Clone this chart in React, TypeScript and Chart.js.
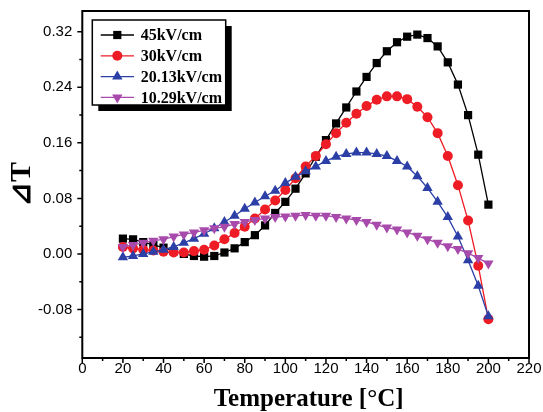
import React, { useEffect, useRef } from 'react';
import { Chart, registerables } from 'chart.js';
import { drawPoint } from 'chart.js/helpers';

Chart.register(...registerables);

const temperatures = [20, 25, 30, 35, 40, 45, 50, 55, 60, 65, 70, 75, 80, 85, 90, 95, 100, 105, 110, 115, 120, 125, 130, 135, 140, 145, 150, 155, 160, 165, 170, 175, 180, 185, 190, 195, 200];

const dT45 = [0.022, 0.021, 0.017, 0.013, 0.009, 0.004, 0.0, -0.003, -0.004, -0.003, 0.002, 0.008, 0.017, 0.027, 0.041, 0.059, 0.075, 0.094, 0.116, 0.14, 0.164, 0.188, 0.211, 0.234, 0.255, 0.275, 0.292, 0.305, 0.313, 0.316, 0.311, 0.299, 0.276, 0.244, 0.2, 0.143, 0.071];
const dT30 = [0.01, 0.008, 0.006, 0.005, 0.003, 0.002, 0.002, 0.004, 0.006, 0.012, 0.021, 0.03, 0.039, 0.051, 0.064, 0.077, 0.092, 0.109, 0.126, 0.141, 0.158, 0.174, 0.189, 0.202, 0.213, 0.222, 0.227, 0.227, 0.223, 0.212, 0.197, 0.174, 0.141, 0.099, 0.048, -0.017, -0.094];
const dT20 = [-0.005, -0.003, 0.0, 0.003, 0.006, 0.01, 0.016, 0.022, 0.029, 0.037, 0.046, 0.055, 0.065, 0.074, 0.083, 0.091, 0.102, 0.111, 0.119, 0.126, 0.134, 0.14, 0.144, 0.146, 0.146, 0.144, 0.141, 0.134, 0.126, 0.112, 0.095, 0.075, 0.053, 0.025, -0.009, -0.046, -0.09];
const dT10 = [0.01, 0.013, 0.016, 0.019, 0.021, 0.025, 0.028, 0.031, 0.034, 0.037, 0.039, 0.043, 0.046, 0.049, 0.051, 0.053, 0.054, 0.055, 0.056, 0.055, 0.055, 0.053, 0.051, 0.049, 0.046, 0.042, 0.038, 0.035, 0.031, 0.026, 0.021, 0.016, 0.011, 0.007, 0.001, -0.006, -0.014];

const seriesLabels = ['45kV/cm', '30kV/cm', '20.13kV/cm', '10.29kV/cm'];
const xTickValues = [0, 20, 40, 60, 80, 100, 120, 140, 160, 180, 200, 220];
const xMinorValues = [10, 30, 50, 70, 90, 110, 130, 150, 170, 190, 210];
const yTickValues = [-0.08, 0, 0.08, 0.16, 0.24, 0.32];
const yMinorValues = [-0.12, -0.04, 0.04, 0.12, 0.2, 0.28];
const xTitle = 'Temperature [°C]';
const yTitle = '⊿T';

const X_MIN = 0;
const X_MAX = 220;
const Y_MIN = -0.15;
const Y_MAX = 0.35;

const COLORS = ['#000000', '#ee1c24', '#2b3fa6', '#a84aac'];
const STYLES = [
  { pointStyle: 'rect', radius: 5.8, rotation: 0 },
  { pointStyle: 'circle', radius: 5, rotation: 0 },
  { pointStyle: 'triangle', radius: 6, rotation: 0 },
  { pointStyle: 'triangle', radius: 6, rotation: 180 },
];

const overlayPlugin = {
  id: 'overlay',
  afterDraw(chart: any) {
    const { ctx, chartArea: a, scales } = chart;
    const xs = scales.x;
    const ys = scales.y;
    ctx.save();
    // frame
    ctx.strokeStyle = '#000';
    ctx.lineWidth = 2;
    ctx.strokeRect(a.left, a.top, a.right - a.left, a.bottom - a.top);
    // ticks
    ctx.lineWidth = 1.5;
    ctx.beginPath();
    xTickValues.forEach((v) => {
      const p = xs.getPixelForValue(v);
      ctx.moveTo(p, a.bottom);
      ctx.lineTo(p, a.bottom + 5);
    });
    xMinorValues.forEach((v) => {
      const p = xs.getPixelForValue(v);
      ctx.moveTo(p, a.bottom);
      ctx.lineTo(p, a.bottom + 3);
    });
    yTickValues.forEach((v) => {
      const p = ys.getPixelForValue(v);
      ctx.moveTo(a.left, p);
      ctx.lineTo(a.left - 5, p);
    });
    yMinorValues.forEach((v) => {
      const p = ys.getPixelForValue(v);
      ctx.moveTo(a.left, p);
      ctx.lineTo(a.left - 3, p);
    });
    ctx.stroke();

    // axis titles
    ctx.fillStyle = '#000';
    ctx.font = 'bold 25px "Liberation Serif", "Times New Roman", serif';
    ctx.textAlign = 'center';
    ctx.textBaseline = 'alphabetic';
    ctx.fillText(xTitle, (a.left + a.right) / 2 + 3, 406);

    ctx.save();
    ctx.translate(22, (a.top + a.bottom) / 2);
    ctx.rotate(-Math.PI / 2);
    ctx.font = 'bold 30px "Liberation Serif", "DejaVu Serif", serif';
    ctx.textAlign = 'center';
    ctx.textBaseline = 'middle';
    ctx.fillText(yTitle, 0, 0);
    ctx.restore();

    // legend
    const bx = 92.3, by = 20, bw = 133.4, bh = 85;
    ctx.fillStyle = '#000';
    ctx.fillRect(bx + 6, by + 6, bw, bh);
    ctx.fillStyle = '#fff';
    ctx.fillRect(bx, by, bw, bh);
    ctx.strokeStyle = '#000';
    ctx.lineWidth = 1.5;
    ctx.strokeRect(bx, by, bw, bh);

    seriesLabels.forEach((label, i) => {
      const y = 35 + i * 20.8;
      ctx.strokeStyle = COLORS[i];
      ctx.lineWidth = 1.3;
      ctx.beginPath();
      ctx.moveTo(100.7, y);
      ctx.lineTo(134, y);
      ctx.stroke();
      ctx.fillStyle = COLORS[i];
      drawPoint(ctx, { ...STYLES[i], borderWidth: 0 } as any, 117.3, y);
      ctx.fillStyle = '#000';
      ctx.font = 'bold 16px "Liberation Serif", "Times New Roman", serif';
      ctx.textAlign = 'left';
      ctx.textBaseline = 'middle';
      ctx.fillText(label, 140.7, y + 1);
    });
    ctx.restore();
  },
};

const zeroPadding = (scale: any) => {
  scale.paddingTop = 0;
  scale.paddingBottom = 0;
  scale.paddingLeft = 0;
  scale.paddingRight = 0;
};

export default function App() {
  const canvasRef = useRef<HTMLCanvasElement | null>(null);

  useEffect(() => {
    document.body.style.margin = '0';
    const canvas = canvasRef.current;
    if (!canvas) return;
    const seriesList = [dT45, dT30, dT20, dT10];
    const chart = new Chart(canvas, {
      type: 'line',
      data: {
        datasets: seriesList.map((s, i) => ({
          label: seriesLabels[i],
          data: temperatures.map((t, j) => ({ x: t, y: s[j] })),
          borderColor: COLORS[i],
          backgroundColor: COLORS[i],
          borderWidth: 1.3,
          pointStyle: STYLES[i].pointStyle as any,
          pointRadius: STYLES[i].radius,
          pointRotation: STYLES[i].rotation,
          pointBorderWidth: 0,
          pointBackgroundColor: COLORS[i],
          tension: 0,
          order: 4 - i,
          clip: false as any,
        })),
      },
      options: {
        animation: false,
        responsive: false,
        maintainAspectRatio: false,
        devicePixelRatio: 1,
        layout: { padding: { top: 11, right: 14, left: 0, bottom: 0 } },
        plugins: {
          legend: { display: false },
          tooltip: { enabled: false },
          title: { display: false },
        },
        scales: {
          x: {
            type: 'linear',
            min: X_MIN,
            max: X_MAX,
            grid: { display: false, drawTicks: false },
            border: { display: false },
            afterBuildTicks: (scale: any) => {
              scale.ticks = xTickValues.map((v) => ({ value: v }));
            },
            afterFit: (scale: any) => {
              scale.height = 54;
              zeroPadding(scale);
            },
            ticks: {
              autoSkip: false,
              maxRotation: 0,
              padding: 2,
              color: '#000',
              font: { family: '"Liberation Sans", Arial, sans-serif', size: 15 },
              callback: (v: any) => String(v),
            },
          },
          y: {
            type: 'linear',
            min: Y_MIN,
            max: Y_MAX,
            grid: { display: false, drawTicks: false },
            border: { display: false },
            afterBuildTicks: (scale: any) => {
              scale.ticks = yTickValues.map((v) => ({ value: v }));
            },
            afterFit: (scale: any) => {
              scale.width = 82.3;
              zeroPadding(scale);
            },
            ticks: {
              autoSkip: false,
              padding: 10,
              color: '#000',
              font: { family: '"Liberation Sans", Arial, sans-serif', size: 15 },
              callback: (v: any) => Number(v).toFixed(2),
            },
          },
        },
      },
      plugins: [overlayPlugin],
    });
    return () => chart.destroy();
  }, []);

  return (
    <div style={{ width: 543, height: 412 }}>
      <canvas ref={canvasRef} width={543} height={412} style={{ display: 'block' }} />
    </div>
  );
}
